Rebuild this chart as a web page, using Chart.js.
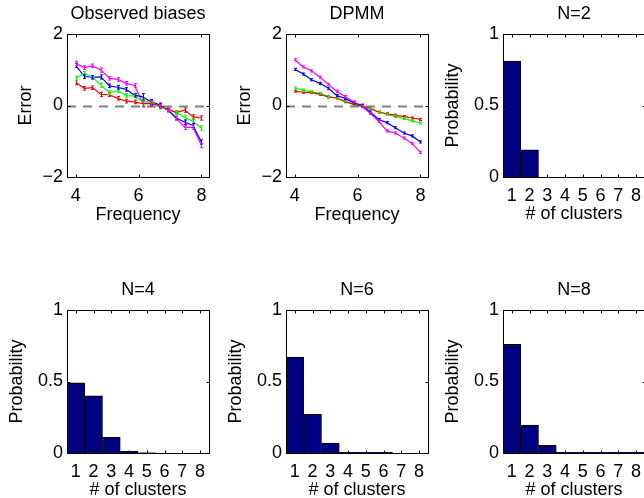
<!DOCTYPE html>
<html lang="en">
<head>
<meta charset="UTF-8">
<title>Observed biases / DPMM</title>
<script src="https://cdn.jsdelivr.net/npm/chart.js"></script>
<style>
  html, body { margin: 0; padding: 0; background: #fff; overflow: hidden; }
  body { width: 644px; height: 498px; position: relative; }
  .cell { position: absolute; width: 219px; height: 230px; }
  .cell canvas { width: 219px !important; height: 230px !important; }
</style>
</head>
<body>
<div class="cell" style="left:0px;top:0px"><canvas id="obs"></canvas></div>
<div class="cell" style="left:219px;top:0px"><canvas id="dpmm"></canvas></div>
<div class="cell" style="left:436px;top:0px"><canvas id="n2"></canvas></div>
<div class="cell" style="left:0px;top:276px"><canvas id="n4"></canvas></div>
<div class="cell" style="left:219px;top:276px"><canvas id="n6"></canvas></div>
<div class="cell" style="left:436px;top:276px"><canvas id="n8"></canvas></div>

<script>
// --- data ---
const freq = [4, 4.27, 4.53, 4.8, 5.07, 5.33, 5.6, 5.87, 6.13, 6.4, 6.67, 6.93, 7.2, 7.47, 7.73, 8];
const freqTicks = [4, 6, 8];
const errTicks = [-2, 0, 2];
const errTickLabels = ['\u22122', '0', '2'];

const obsRed     = [0.64, 0.48, 0.50, 0.31, 0.30, 0.20, 0.12, 0.10, 0.05, 0.05, 0.00, -0.11, -0.19, -0.13, -0.32, -0.35];
const obsGreen   = [0.76, 0.90, 0.79, 0.57, 0.36, 0.41, 0.28, 0.26, 0.10, 0.10, -0.05, -0.10, -0.20, -0.33, -0.45, -0.63];
const obsBlue    = [1.12, 0.81, 0.79, 0.80, 0.55, 0.51, 0.45, 0.29, 0.24, 0.10, 0.02, -0.13, -0.35, -0.47, -0.56, -1.02];
const obsMagenta = [1.18, 1.06, 1.11, 0.99, 0.76, 0.73, 0.62, 0.56, 0.06, 0.07, -0.03, -0.12, -0.36, -0.61, -0.61, -1.12];
const obsErr     = [0.06, 0.05, 0.05, 0.06, 0.05, 0.05, 0.05, 0.05, 0.09, 0.07, 0.05, 0.05, 0.05, 0.06, 0.06, 0.06];

const dpRed     = [0.40, 0.37, 0.36, 0.31, 0.24, 0.21, 0.12, 0.03, -0.02, -0.08, -0.19, -0.23, -0.27, -0.31, -0.35, -0.39];
const dpGreen   = [0.49, 0.43, 0.38, 0.34, 0.24, 0.21, 0.10, 0.04, -0.02, -0.08, -0.18, -0.24, -0.31, -0.36, -0.43, -0.49];
const dpBlue    = [1.01, 0.88, 0.72, 0.62, 0.48, 0.28, 0.20, 0.07, 0.01, -0.18, -0.39, -0.48, -0.62, -0.77, -0.85, -1.02];
const dpMagenta = [1.28, 1.08, 0.97, 0.79, 0.59, 0.40, 0.25, 0.10, -0.03, -0.22, -0.44, -0.71, -0.77, -0.91, -1.06, -1.31];
const dpErr     = [0.03, 0.03, 0.03, 0.03, 0.03, 0.03, 0.03, 0.03, 0.03, 0.03, 0.03, 0.03, 0.03, 0.03, 0.03, 0.03];

const clusters = ['1', '2', '3', '4', '5', '6', '7', '8'];
const probTicks = [0, 0.5, 1];
const probTickLabels = ['0', '0.5', '1'];
const probN2 = [0.81, 0.19, 0, 0, 0, 0, 0, 0];
const probN4 = [0.49, 0.40, 0.11, 0.012, 0.002, 0, 0, 0];
const probN6 = [0.67, 0.27, 0.07, 0.005, 0.005, 0.005, 0, 0];
const probN8 = [0.76, 0.195, 0.053, 0.005, 0.005, 0.005, 0.005, 0.005];

// --- common stuff ---
const FONT = { family: '"Liberation Sans", Arial, Helvetica, sans-serif', size: 18, lineHeight: 1.2 };
const Y_AXIS_W = 67;     // left margin up to the axes box
const X_AXIS_H = 53;     // below the axes box

// matlab-like box, inward ticks, zero line and error bars
const matlabAxes = {
  id: 'matlabAxes',
  beforeDatasetsDraw(chart, args, opts) {
    if (!opts.zeroLine) return;
    const { ctx, chartArea: a, scales: { y } } = chart;
    const y0 = Math.round(y.getPixelForValue(0)) + 0.5;
    ctx.save();
    ctx.strokeStyle = '#808080';
    ctx.lineWidth = 2;
    ctx.setLineDash([9, 7]);
    ctx.beginPath();
    ctx.moveTo(a.left, y0);
    ctx.lineTo(a.right, y0);
    ctx.stroke();
    ctx.restore();
  },
  afterDatasetsDraw(chart, args, opts) {
    const { ctx, chartArea: a, scales: { x, y } } = chart;
    ctx.save();
    // error bars
    chart.data.datasets.forEach((ds, di) => {
      if (!ds.errors) return;
      const meta = chart.getDatasetMeta(di);
      ctx.strokeStyle = ds.borderColor;
      ctx.lineWidth = 1;
      meta.data.forEach((pt, i) => {
        const v = ds.data[i].y, e = ds.errors[i];
        const yl = y.getPixelForValue(v - e), yh = y.getPixelForValue(v + e);
        const px = Math.round(pt.x) + 0.5;
        ctx.beginPath();
        ctx.moveTo(px, yl); ctx.lineTo(px, yh);
        ctx.moveTo(px - 1.5, yl); ctx.lineTo(px + 1.5, yl);
        ctx.moveTo(px - 1.5, yh); ctx.lineTo(px + 1.5, yh);
        ctx.stroke();
      });
    });
    // box
    ctx.strokeStyle = '#000';
    ctx.lineWidth = 1;
    const L = Math.round(a.left) + 0.5, R = Math.round(a.right) + 0.5;
    const T = Math.round(a.top) + 0.5, B = Math.round(a.bottom) + 0.5;
    ctx.strokeRect(L, T, R - L, B - T);
    // inward ticks
    const tl = 3;
    ctx.beginPath();
    x.ticks.forEach(t => {
      const px = Math.round(x.getPixelForValue(t.value)) + 0.5;
      ctx.moveTo(px, B); ctx.lineTo(px, B - tl);
      ctx.moveTo(px, T); ctx.lineTo(px, T + tl);
    });
    y.ticks.forEach(t => {
      const py = Math.round(y.getPixelForValue(t.value)) + 0.5;
      ctx.moveTo(L, py); ctx.lineTo(L + tl, py);
      ctx.moveTo(R, py); ctx.lineTo(R - tl, py);
    });
    ctx.stroke();
    ctx.restore();
  }
};

function baseOptions(title, xTitle, yTitle, yTitlePad, xTitlePad) {
  return {
    responsive: false,
    animation: false,
    devicePixelRatio: 1,
    layout: { padding: { left: 0, right: 10, top: 0, bottom: 0 } },
    plugins: {
      legend: { display: false },
      tooltip: { enabled: false },
      title: {
        display: true, text: title, color: '#000',
        fullSize: false,
        font: { ...FONT, weight: 'normal' },
        padding: { top: 3.2, bottom: 9.2 }
      },
      matlabAxes: {}
    },
    scales: {
      x: {
        grid: { display: false, drawTicks: false },
        border: { display: false },
        ticks: { color: '#000', font: FONT, padding: 8, maxRotation: 0, autoSkip: false },
        title: { display: true, text: xTitle, color: '#000', font: FONT, padding: { top: 0, bottom: xTitlePad } },
        afterFit: s => { s.height = X_AXIS_H; }
      },
      y: {
        grid: { display: false, drawTicks: false },
        border: { display: false },
        ticks: { color: '#000', font: FONT, padding: 4 },
        title: { display: true, text: yTitle, color: '#000', font: FONT, padding: { top: yTitlePad, bottom: 0 } },
        afterFit: s => { s.width = Y_AXIS_W; }
      }
    }
  };
}

function lineSet(vals, errs, color) {
  return {
    data: freq.map((f, i) => ({ x: f, y: vals[i] })),
    errors: errs,
    borderColor: color,
    backgroundColor: color,
    borderWidth: 1.2,
    pointRadius: 0,
    tension: 0
  };
}

function errorChart(id, title, sets, errs) {
  const opts = baseOptions(title, 'Frequency', 'Error', 15.2, 4.2);
  opts.plugins.matlabAxes = { zeroLine: true };
  Object.assign(opts.scales.x, {
    type: 'linear', min: 3.72, max: 8.24,
    afterBuildTicks: s => { s.ticks = freqTicks.map(v => ({ value: v })); }
  });
  Object.assign(opts.scales.y, {
    min: -2, max: 2,
    afterBuildTicks: s => { s.ticks = errTicks.map(v => ({ value: v })); }
  });
  opts.scales.y.ticks.callback = v => errTickLabels[errTicks.indexOf(v)];
  const colors = ['#ff0000', '#00ff00', '#0000ff', '#ff00ff'];
  return new Chart(document.getElementById(id), {
    type: 'line',
    data: { datasets: sets.map((s, k) => lineSet(s, errs, colors[k])) },
    options: opts,
    plugins: [matlabAxes]
  });
}

function clusterChart(id, title, probs) {
  const opts = baseOptions(title, '# of clusters', 'Probability', 6.5, 5.2);
  opts.scales.x.type = 'category';
  opts.scales.x.offset = true;
  Object.assign(opts.scales.y, {
    min: 0, max: 1,
    afterBuildTicks: s => { s.ticks = probTicks.map(v => ({ value: v })); }
  });
  opts.scales.y.ticks.callback = v => probTickLabels[probTicks.indexOf(v)];
  return new Chart(document.getElementById(id), {
    type: 'bar',
    data: {
      labels: clusters,
      datasets: [{
        data: probs,
        backgroundColor: '#000080',
        borderColor: '#000000',
        borderWidth: 1,
        barPercentage: 1,
        categoryPercentage: 1
      }]
    },
    options: opts,
    plugins: [matlabAxes]
  });
}

['obs', 'dpmm', 'n2', 'n4', 'n6', 'n8'].forEach(id => {
  const c = document.getElementById(id);
  c.width = 219; c.height = 230;
});

errorChart('obs', 'Observed biases', [obsRed, obsGreen, obsBlue, obsMagenta], obsErr);
errorChart('dpmm', 'DPMM', [dpRed, dpGreen, dpBlue, dpMagenta], dpErr);
clusterChart('n2', 'N=2', probN2);
clusterChart('n4', 'N=4', probN4);
clusterChart('n6', 'N=6', probN6);
clusterChart('n8', 'N=8', probN8);
</script>
</body>
</html>
